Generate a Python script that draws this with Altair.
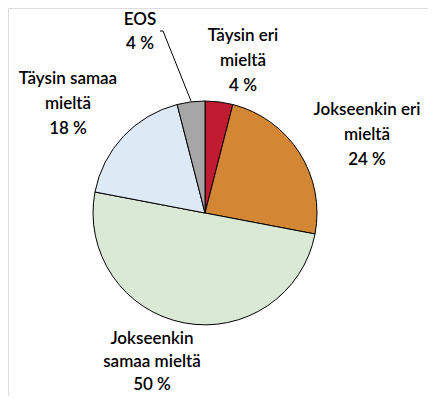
import altair as alt
import pandas as pd

categories = ["Täysin eri mieltä", "Jokseenkin eri mieltä", "Jokseenkin samaa mieltä", "Täysin samaa mieltä", "EOS"]
values = [4, 24, 50, 18, 4]
colors = ["#C01B30", "#D38634", "#DAE8D6", "#DDEAF6", "#A6A6A6"]
label_texts = ["Täysin eri\nmieltä\n4 %", "Jokseenkin eri\nmieltä\n24 %", "Jokseenkin\nsamaa mieltä\n50 %", "Täysin samaa\nmieltä\n18 %", "EOS\n4 %"]

df = pd.DataFrame({"cat": categories, "value": values, "order": list(range(len(values)))})

CX, CY, R = 197, 205, 112

pie = alt.Chart(df).mark_arc(radius=R, stroke="black", strokeWidth=1).encode(
    theta=alt.Theta("value:Q", stack=True),
    order=alt.Order("order:Q"),
    color=alt.Color("cat:N", scale=alt.Scale(domain=categories, range=colors), legend=None),
    x=alt.value(CX),
    y=alt.value(CY),
)

# label placement (layout, chart coordinates: centre x, first-line y, line height)
label_pos = {
    "Täysin eri mieltä": (235, 28, 25),
    "Jokseenkin eri mieltä": (359, 102, 25),
    "Jokseenkin samaa mieltä": (144, 331, 23),
    "Täysin samaa mieltä": (60, 71, 25),
    "EOS": (132, 12, 24),
}

layers = [pie]
for cat, txt in zip(categories, label_texts):
    x, y, lh = label_pos[cat]
    layers.append(
        alt.Chart(pd.DataFrame({"t": [txt]})).mark_text(
            font="Lato", fontSize=17, fontWeight=600, lineBreak="\n", lineHeight=lh,
            align="center", baseline="middle", color="black",
        ).encode(text="t:N", x=alt.value(x), y=alt.value(y))
    )

leader = alt.Chart(pd.DataFrame({"a": [0]})).mark_rule(color="black", strokeWidth=1).encode(
    x=alt.value(155), y=alt.value(23), x2=alt.value(183), y2=alt.value(93)
)
leader2 = alt.Chart(pd.DataFrame({"a": [0]})).mark_rule(color="black", strokeWidth=1).encode(
    x=alt.value(152), y=alt.value(23), x2=alt.value(155), y2=alt.value(23)
)
layers += [leader, leader2]

chart = alt.layer(*layers).properties(
    width=420, height=388, autosize=alt.AutoSizeParams(type="none"), padding=0
).configure_view(strokeWidth=0, stroke="transparent").configure(background="white")

chart.save("out.html", embed_options={"renderer": "svg", "actions": False})
